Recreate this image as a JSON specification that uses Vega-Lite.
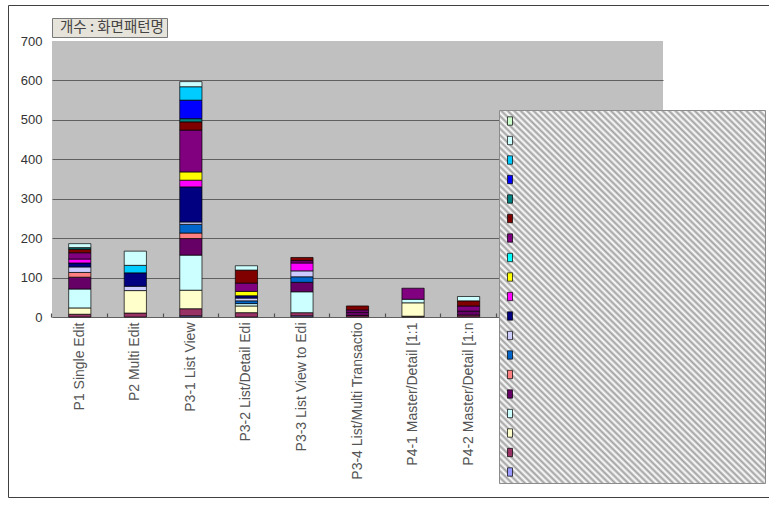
{
  "$schema": "https://vega.github.io/schema/vega-lite/v6.json",
  "width": 611,
  "height": 276,
  "autosize": {"type": "none"},
  "padding": {"left": 52, "top": 41, "right": 106, "bottom": 188},
  "background": "#ffffff",
  "config": {"view": {"fill": "#c0c0c0", "stroke": null}, "font": "Liberation Sans"},
  "data": {"values": [
    {"pattern": "P1 Single Edit", "series": "S02", "count": 7},
    {"pattern": "P1 Single Edit", "series": "S03", "count": 16},
    {"pattern": "P1 Single Edit", "series": "S04", "count": 48},
    {"pattern": "P1 Single Edit", "series": "S05", "count": 30},
    {"pattern": "P1 Single Edit", "series": "S06", "count": 12},
    {"pattern": "P1 Single Edit", "series": "S08", "count": 14},
    {"pattern": "P1 Single Edit", "series": "S09", "count": 10},
    {"pattern": "P1 Single Edit", "series": "S10", "count": 10},
    {"pattern": "P1 Single Edit", "series": "S13", "count": 16},
    {"pattern": "P1 Single Edit", "series": "S14", "count": 9},
    {"pattern": "P1 Single Edit", "series": "S15", "count": 4},
    {"pattern": "P1 Single Edit", "series": "S18", "count": 10},
    {"pattern": "P2 Multi Edit", "series": "S02", "count": 10},
    {"pattern": "P2 Multi Edit", "series": "S03", "count": 57},
    {"pattern": "P2 Multi Edit", "series": "S08", "count": 11},
    {"pattern": "P2 Multi Edit", "series": "S09", "count": 34},
    {"pattern": "P2 Multi Edit", "series": "S17", "count": 19},
    {"pattern": "P2 Multi Edit", "series": "S18", "count": 36},
    {"pattern": "P3-1 List View", "series": "S01", "count": 3},
    {"pattern": "P3-1 List View", "series": "S02", "count": 18},
    {"pattern": "P3-1 List View", "series": "S03", "count": 47},
    {"pattern": "P3-1 List View", "series": "S04", "count": 89},
    {"pattern": "P3-1 List View", "series": "S05", "count": 42},
    {"pattern": "P3-1 List View", "series": "S06", "count": 14},
    {"pattern": "P3-1 List View", "series": "S07", "count": 22},
    {"pattern": "P3-1 List View", "series": "S08", "count": 6},
    {"pattern": "P3-1 List View", "series": "S09", "count": 89},
    {"pattern": "P3-1 List View", "series": "S10", "count": 17},
    {"pattern": "P3-1 List View", "series": "S11", "count": 21},
    {"pattern": "P3-1 List View", "series": "S13", "count": 106},
    {"pattern": "P3-1 List View", "series": "S14", "count": 21},
    {"pattern": "P3-1 List View", "series": "S15", "count": 8},
    {"pattern": "P3-1 List View", "series": "S16", "count": 47},
    {"pattern": "P3-1 List View", "series": "S17", "count": 34},
    {"pattern": "P3-1 List View", "series": "S18", "count": 13},
    {"pattern": "P3-2 List/Detail Edi", "series": "S02", "count": 11},
    {"pattern": "P3-2 List/Detail Edi", "series": "S03", "count": 17},
    {"pattern": "P3-2 List/Detail Edi", "series": "S04", "count": 6},
    {"pattern": "P3-2 List/Detail Edi", "series": "S07", "count": 7},
    {"pattern": "P3-2 List/Detail Edi", "series": "S08", "count": 7},
    {"pattern": "P3-2 List/Detail Edi", "series": "S09", "count": 6},
    {"pattern": "P3-2 List/Detail Edi", "series": "S11", "count": 11},
    {"pattern": "P3-2 List/Detail Edi", "series": "S13", "count": 21},
    {"pattern": "P3-2 List/Detail Edi", "series": "S14", "count": 33},
    {"pattern": "P3-2 List/Detail Edi", "series": "S18", "count": 11},
    {"pattern": "P3-3 List View to Edi", "series": "S01", "count": 3},
    {"pattern": "P3-3 List View to Edi", "series": "S02", "count": 8},
    {"pattern": "P3-3 List View to Edi", "series": "S04", "count": 53},
    {"pattern": "P3-3 List View to Edi", "series": "S05", "count": 24},
    {"pattern": "P3-3 List View to Edi", "series": "S07", "count": 14},
    {"pattern": "P3-3 List View to Edi", "series": "S08", "count": 15},
    {"pattern": "P3-3 List View to Edi", "series": "S10", "count": 20},
    {"pattern": "P3-3 List View to Edi", "series": "S13", "count": 6},
    {"pattern": "P3-3 List View to Edi", "series": "S14", "count": 8},
    {"pattern": "P3-4 List/Multi Transactio", "series": "S02", "count": 4},
    {"pattern": "P3-4 List/Multi Transactio", "series": "S05", "count": 8},
    {"pattern": "P3-4 List/Multi Transactio", "series": "S13", "count": 6},
    {"pattern": "P3-4 List/Multi Transactio", "series": "S14", "count": 10},
    {"pattern": "P4-1 Master/Detail [1:1", "series": "S02", "count": 2},
    {"pattern": "P4-1 Master/Detail [1:1", "series": "S03", "count": 34},
    {"pattern": "P4-1 Master/Detail [1:1", "series": "S04", "count": 9},
    {"pattern": "P4-1 Master/Detail [1:1", "series": "S13", "count": 28},
    {"pattern": "P4-2 Master/Detail [1:n", "series": "S02", "count": 5},
    {"pattern": "P4-2 Master/Detail [1:n", "series": "S05", "count": 10},
    {"pattern": "P4-2 Master/Detail [1:n", "series": "S13", "count": 13},
    {"pattern": "P4-2 Master/Detail [1:n", "series": "S14", "count": 13},
    {"pattern": "P4-2 Master/Detail [1:n", "series": "S18", "count": 11}
  ]},
  "mark": {"type": "bar", "stroke": "#000000"},
  "encoding": {
    "x": {
      "field": "pattern",
      "type": "nominal",
      "scale": {
        "domain": ["P1 Single Edit", "P2 Multi Edit", "P3-1 List View", "P3-2 List/Detail Edi", "P3-3 List View to Edi", "P3-4 List/Multi Transactio", "P4-1 Master/Detail [1:1", "P4-2 Master/Detail [1:n", "P5", "P6", "P7"],
        "paddingInner": 0.6,
        "paddingOuter": 0.3
      },
      "axis": {
        "title": null,
        "labelAngle": 270,
        "labelFont": "Liberation Sans",
        "labelFontSize": 14,
        "labelColor": "#555555",
        "labelPadding": 9,
        "tickSize": -4,
        "tickColor": "#505050",
        "tickWidth": 1.2,
        "bandPosition": -0.75,
        "domainColor": "#606060",
        "domainWidth": 1.2,
        "grid": false
      }
    },
    "y": {
      "field": "count",
      "type": "quantitative",
      "stack": "zero",
      "scale": {"domain": [0, 700], "nice": false},
      "axis": {
        "title": null,
        "values": [0, 100, 200, 300, 400, 500, 600, 700],
        "labelFont": "Liberation Sans",
        "labelFontSize": 13,
        "labelColor": "#333333",
        "labelPadding": 10,
        "ticks": false,
        "tickSize": 0,
        "domain": false,
        "grid": true,
        "gridColor": {"condition": {"test": "datum.value === 700", "value": "transparent"}, "value": "#606060"},
        "gridWidth": 1.2
      }
    },
    "color": {
      "field": "series",
      "type": "nominal",
      "scale": {
        "domain": ["S19", "S18", "S17", "S16", "S15", "S14", "S13", "S12", "S11", "S10", "S09", "S08", "S07", "S06", "S05", "S04", "S03", "S02", "S01"],
        "range": ["#CCFFCC", "#CCFFFF", "#00CCFF", "#0000FF", "#008080", "#800000", "#800080", "#00FFFF", "#FFFF00", "#FF00FF", "#000080", "#CCCCFF", "#0066CC", "#FF8080", "#660066", "#CCFFFF", "#FFFFCC", "#993366", "#9999FF"]
      },
      "legend": {
        "orient": "none",
        "legendX": 447,
        "legendY": 69,
        "title": null,
        "padding": 5,
        "rowPadding": 7.5,
        "symbolType": "M-0.6,-1L0.6,-1L0.6,1L-0.6,1Z",
        "symbolSize": 70,
        "symbolStrokeColor": "#000000",
        "symbolStrokeWidth": 0.7,
        "labelFontSize": 12,
        "labelOpacity": 0,
        "labelLimit": 240,
        "labelExpr": "datum.label + ' WWWWWWWWWWWWWWWWWWWWWWWWWWWWWWWWWWWWWWWWWWWW'",
        "strokeColor": "#8c8c8c",
        "fillColor": {"expr": "{gradient:'linear',x1:0,y1:1,x2:0.8,y2:-0.14,stops:[{offset:0/200,color:'#a0a0a0'},{offset:1/200,color:'#fff'},{offset:2/200,color:'#a0a0a0'},{offset:3/200,color:'#fff'},{offset:4/200,color:'#a0a0a0'},{offset:5/200,color:'#fff'},{offset:6/200,color:'#a0a0a0'},{offset:7/200,color:'#fff'},{offset:8/200,color:'#a0a0a0'},{offset:9/200,color:'#fff'},{offset:10/200,color:'#a0a0a0'},{offset:11/200,color:'#fff'},{offset:12/200,color:'#a0a0a0'},{offset:13/200,color:'#fff'},{offset:14/200,color:'#a0a0a0'},{offset:15/200,color:'#fff'},{offset:16/200,color:'#a0a0a0'},{offset:17/200,color:'#fff'},{offset:18/200,color:'#a0a0a0'},{offset:19/200,color:'#fff'},{offset:20/200,color:'#a0a0a0'},{offset:21/200,color:'#fff'},{offset:22/200,color:'#a0a0a0'},{offset:23/200,color:'#fff'},{offset:24/200,color:'#a0a0a0'},{offset:25/200,color:'#fff'},{offset:26/200,color:'#a0a0a0'},{offset:27/200,color:'#fff'},{offset:28/200,color:'#a0a0a0'},{offset:29/200,color:'#fff'},{offset:30/200,color:'#a0a0a0'},{offset:31/200,color:'#fff'},{offset:32/200,color:'#a0a0a0'},{offset:33/200,color:'#fff'},{offset:34/200,color:'#a0a0a0'},{offset:35/200,color:'#fff'},{offset:36/200,color:'#a0a0a0'},{offset:37/200,color:'#fff'},{offset:38/200,color:'#a0a0a0'},{offset:39/200,color:'#fff'},{offset:40/200,color:'#a0a0a0'},{offset:41/200,color:'#fff'},{offset:42/200,color:'#a0a0a0'},{offset:43/200,color:'#fff'},{offset:44/200,color:'#a0a0a0'},{offset:45/200,color:'#fff'},{offset:46/200,color:'#a0a0a0'},{offset:47/200,color:'#fff'},{offset:48/200,color:'#a0a0a0'},{offset:49/200,color:'#fff'},{offset:50/200,color:'#a0a0a0'},{offset:51/200,color:'#fff'},{offset:52/200,color:'#a0a0a0'},{offset:53/200,color:'#fff'},{offset:54/200,color:'#a0a0a0'},{offset:55/200,color:'#fff'},{offset:56/200,color:'#a0a0a0'},{offset:57/200,color:'#fff'},{offset:58/200,color:'#a0a0a0'},{offset:59/200,color:'#fff'},{offset:60/200,color:'#a0a0a0'},{offset:61/200,color:'#fff'},{offset:62/200,color:'#a0a0a0'},{offset:63/200,color:'#fff'},{offset:64/200,color:'#a0a0a0'},{offset:65/200,color:'#fff'},{offset:66/200,color:'#a0a0a0'},{offset:67/200,color:'#fff'},{offset:68/200,color:'#a0a0a0'},{offset:69/200,color:'#fff'},{offset:70/200,color:'#a0a0a0'},{offset:71/200,color:'#fff'},{offset:72/200,color:'#a0a0a0'},{offset:73/200,color:'#fff'},{offset:74/200,color:'#a0a0a0'},{offset:75/200,color:'#fff'},{offset:76/200,color:'#a0a0a0'},{offset:77/200,color:'#fff'},{offset:78/200,color:'#a0a0a0'},{offset:79/200,color:'#fff'},{offset:80/200,color:'#a0a0a0'},{offset:81/200,color:'#fff'},{offset:82/200,color:'#a0a0a0'},{offset:83/200,color:'#fff'},{offset:84/200,color:'#a0a0a0'},{offset:85/200,color:'#fff'},{offset:86/200,color:'#a0a0a0'},{offset:87/200,color:'#fff'},{offset:88/200,color:'#a0a0a0'},{offset:89/200,color:'#fff'},{offset:90/200,color:'#a0a0a0'},{offset:91/200,color:'#fff'},{offset:92/200,color:'#a0a0a0'},{offset:93/200,color:'#fff'},{offset:94/200,color:'#a0a0a0'},{offset:95/200,color:'#fff'},{offset:96/200,color:'#a0a0a0'},{offset:97/200,color:'#fff'},{offset:98/200,color:'#a0a0a0'},{offset:99/200,color:'#fff'},{offset:100/200,color:'#a0a0a0'},{offset:101/200,color:'#fff'},{offset:102/200,color:'#a0a0a0'},{offset:103/200,color:'#fff'},{offset:104/200,color:'#a0a0a0'},{offset:105/200,color:'#fff'},{offset:106/200,color:'#a0a0a0'},{offset:107/200,color:'#fff'},{offset:108/200,color:'#a0a0a0'},{offset:109/200,color:'#fff'},{offset:110/200,color:'#a0a0a0'},{offset:111/200,color:'#fff'},{offset:112/200,color:'#a0a0a0'},{offset:113/200,color:'#fff'},{offset:114/200,color:'#a0a0a0'},{offset:115/200,color:'#fff'},{offset:116/200,color:'#a0a0a0'},{offset:117/200,color:'#fff'},{offset:118/200,color:'#a0a0a0'},{offset:119/200,color:'#fff'},{offset:120/200,color:'#a0a0a0'},{offset:121/200,color:'#fff'},{offset:122/200,color:'#a0a0a0'},{offset:123/200,color:'#fff'},{offset:124/200,color:'#a0a0a0'},{offset:125/200,color:'#fff'},{offset:126/200,color:'#a0a0a0'},{offset:127/200,color:'#fff'},{offset:128/200,color:'#a0a0a0'},{offset:129/200,color:'#fff'},{offset:130/200,color:'#a0a0a0'},{offset:131/200,color:'#fff'},{offset:132/200,color:'#a0a0a0'},{offset:133/200,color:'#fff'},{offset:134/200,color:'#a0a0a0'},{offset:135/200,color:'#fff'},{offset:136/200,color:'#a0a0a0'},{offset:137/200,color:'#fff'},{offset:138/200,color:'#a0a0a0'},{offset:139/200,color:'#fff'},{offset:140/200,color:'#a0a0a0'},{offset:141/200,color:'#fff'},{offset:142/200,color:'#a0a0a0'},{offset:143/200,color:'#fff'},{offset:144/200,color:'#a0a0a0'},{offset:145/200,color:'#fff'},{offset:146/200,color:'#a0a0a0'},{offset:147/200,color:'#fff'},{offset:148/200,color:'#a0a0a0'},{offset:149/200,color:'#fff'},{offset:150/200,color:'#a0a0a0'},{offset:151/200,color:'#fff'},{offset:152/200,color:'#a0a0a0'},{offset:153/200,color:'#fff'},{offset:154/200,color:'#a0a0a0'},{offset:155/200,color:'#fff'},{offset:156/200,color:'#a0a0a0'},{offset:157/200,color:'#fff'},{offset:158/200,color:'#a0a0a0'},{offset:159/200,color:'#fff'},{offset:160/200,color:'#a0a0a0'},{offset:161/200,color:'#fff'},{offset:162/200,color:'#a0a0a0'},{offset:163/200,color:'#fff'},{offset:164/200,color:'#a0a0a0'},{offset:165/200,color:'#fff'},{offset:166/200,color:'#a0a0a0'},{offset:167/200,color:'#fff'},{offset:168/200,color:'#a0a0a0'},{offset:169/200,color:'#fff'},{offset:170/200,color:'#a0a0a0'},{offset:171/200,color:'#fff'},{offset:172/200,color:'#a0a0a0'},{offset:173/200,color:'#fff'},{offset:174/200,color:'#a0a0a0'},{offset:175/200,color:'#fff'},{offset:176/200,color:'#a0a0a0'},{offset:177/200,color:'#fff'},{offset:178/200,color:'#a0a0a0'},{offset:179/200,color:'#fff'},{offset:180/200,color:'#a0a0a0'},{offset:181/200,color:'#fff'},{offset:182/200,color:'#a0a0a0'},{offset:183/200,color:'#fff'},{offset:184/200,color:'#a0a0a0'},{offset:185/200,color:'#fff'},{offset:186/200,color:'#a0a0a0'},{offset:187/200,color:'#fff'},{offset:188/200,color:'#a0a0a0'},{offset:189/200,color:'#fff'},{offset:190/200,color:'#a0a0a0'},{offset:191/200,color:'#fff'},{offset:192/200,color:'#a0a0a0'},{offset:193/200,color:'#fff'},{offset:194/200,color:'#a0a0a0'},{offset:195/200,color:'#fff'},{offset:196/200,color:'#a0a0a0'},{offset:197/200,color:'#fff'},{offset:198/200,color:'#a0a0a0'},{offset:199/200,color:'#fff'},{offset:200/200,color:'#a0a0a0'}]}"}
      }
    },
    "order": {"field": "series", "sort": "ascending"},
    "opacity": {
      "datum": "개수 : 화면패턴명",
      "type": "nominal",
      "scale": {"range": [1, 1]},
      "legend": {
        "orient": "none",
        "legendX": 0,
        "legendY": -23,
        "title": null,
        "padding": 2.5,
        "fillColor": "#e6e3da",
        "strokeColor": "#7a7a7a",
        "labelFont": "Noto Sans CJK KR",
        "labelFontSize": 14.5,
        "labelColor": "#444444",
        "labelOffset": -9,
        "symbolSize": 0,
        "symbolOpacity": 0,
        "symbolStrokeWidth": 0
      }
    },
    "strokeWidth": {
      "datum": "frame",
      "type": "nominal",
      "scale": {"range": [0.7, 0.7]},
      "legend": {
        "orient": "none",
        "legendX": -44,
        "legendY": -36,
        "title": null,
        "padding": 240,
        "strokeColor": "#404040",
        "labelFontSize": 12,
        "labelOpacity": 0,
        "labelLimit": 273,
        "labelExpr": "datum.label + ' WWWWWWWWWWWWWWWWWWWWWWWWWWWWWWWWWWWWWWWWWWWWWWWWWW'",
        "symbolOpacity": 0,
        "symbolSize": 100
      }
    }
  }
}
